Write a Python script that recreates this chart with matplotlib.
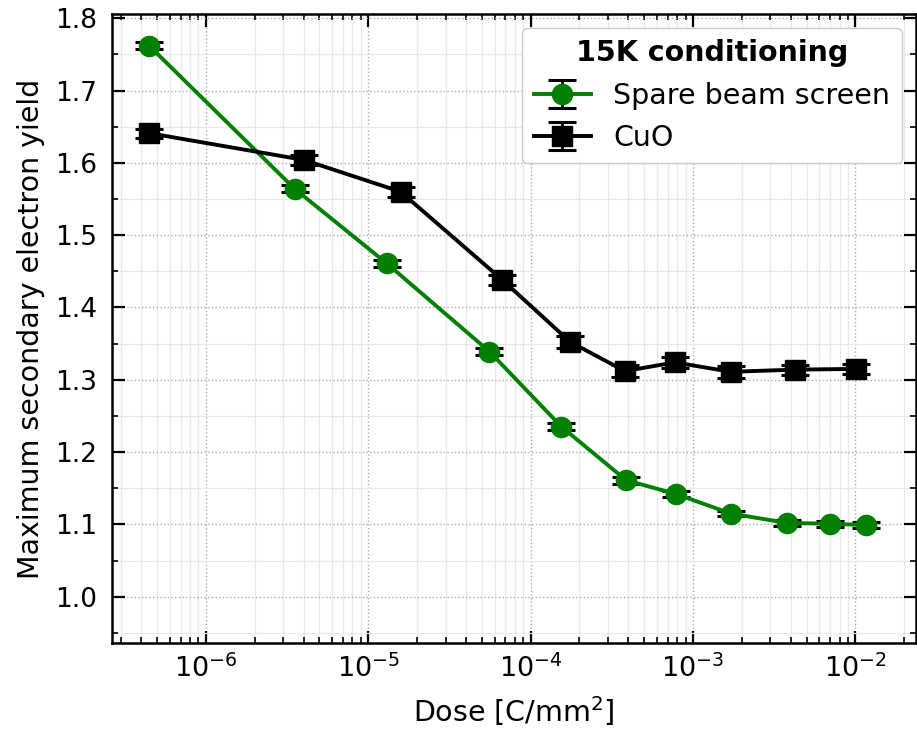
import numpy as np
import matplotlib.pyplot as plt
from matplotlib.ticker import LogLocator, MultipleLocator, NullFormatter

# spare beam screen
dose_bs = [4.48e-7, 3.53e-6, 1.30e-5, 5.58e-5, 1.55e-4, 3.88e-4, 7.87e-4, 1.71e-3, 3.79e-3, 6.95e-3, 1.17e-2]
sey_bs = [1.762, 1.564, 1.461, 1.339, 1.235, 1.161, 1.142, 1.115, 1.102, 1.101, 1.099]
err_bs = [0.005, 0.005, 0.005, 0.005, 0.005, 0.005, 0.004, 0.004, 0.004, 0.004, 0.004]

# CuO
dose_cuo = [4.48e-7, 4.02e-6, 1.585e-5, 6.71e-5, 1.76e-4, 3.81e-4, 7.73e-4, 1.71e-3, 4.23e-3, 1.01e-2]
sey_cuo = [1.641, 1.604, 1.560, 1.438, 1.352, 1.312, 1.324, 1.311, 1.314, 1.315]
err_cuo = [0.006, 0.007, 0.007, 0.007, 0.008, 0.008, 0.008, 0.008, 0.007, 0.007]

plt.rcParams['font.family'] = ['DejaVu Sans']
plt.rcParams['font.size'] = 19

fig = plt.figure(figsize=(9.17, 7.29), dpi=100)
ax = fig.add_axes([0.1216, 0.118, 0.8773, 0.863])

ax.errorbar(dose_bs, sey_bs, yerr=err_bs, color='green', ecolor='black', marker='o',
            markersize=14.5, linewidth=2.8, elinewidth=2, capsize=10, capthick=2.2,
            label='Spare beam screen', zorder=3)
ax.errorbar(dose_cuo, sey_cuo, yerr=err_cuo, color='black', ecolor='black', marker='s',
            markersize=14.5, linewidth=2.8, elinewidth=2, capsize=10, capthick=2.2,
            label='CuO', zorder=3)

ax.set_xscale('log')
ax.set_xlim(2.63e-7, 2.36e-2)
ax.set_ylim(0.936, 1.806)
ax.xaxis.set_minor_locator(LogLocator(base=10, subs=np.arange(2, 10), numticks=20))
ax.xaxis.set_minor_formatter(NullFormatter())
ax.yaxis.set_major_locator(MultipleLocator(0.1))
ax.yaxis.set_minor_locator(MultipleLocator(0.05))

ax.tick_params(which='both', direction='in', top=True, right=True, labelsize=19)
ax.tick_params(which='major', length=9, width=1.6)
ax.tick_params(which='minor', length=4.5, width=1.2)
ax.tick_params(axis='y', which='major', pad=10)
ax.tick_params(axis='x', which='major', pad=8, labelsize=19.5)
for s in ax.spines.values():
    s.set_linewidth(1.8)

ax.grid(which='major', linestyle=':', color='#aaaaaa', linewidth=1)
ax.grid(which='minor', linestyle='-', color='#e8e8e8', linewidth=0.9)
ax.set_axisbelow(True)

ax.set_xlabel('Dose [C/mm$^2$]', fontsize=20.5, labelpad=8)
ax.set_ylabel('Maximum secondary electron yield', fontsize=20.5, labelpad=8)

leg = ax.legend(loc='upper right', title='15K conditioning', fontsize=20.5,
                title_fontproperties={'weight': 'bold', 'size': 20.5},
                fancybox=True, framealpha=1, edgecolor='#cccccc',
                borderaxespad=0.5, handlelength=2)

fig.savefig('out.png', dpi=100)
